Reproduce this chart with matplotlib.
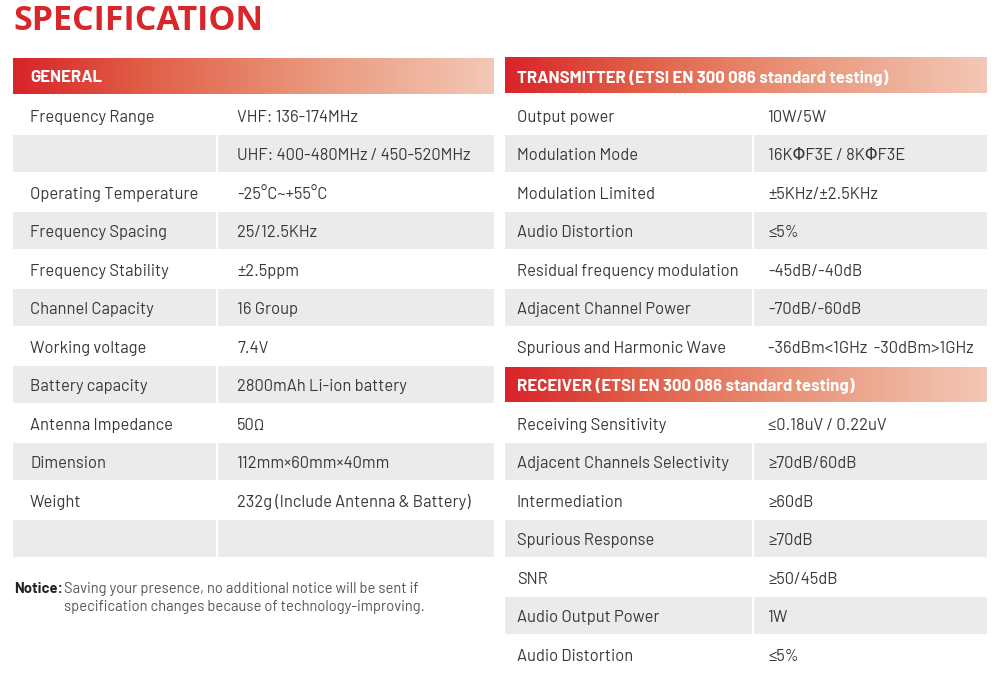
import matplotlib
matplotlib.use("Agg")
import matplotlib.pyplot as plt
import numpy as np
from matplotlib.patches import Rectangle
from matplotlib.colors import LinearSegmentedColormap

title = "SPECIFICATION"

general_header = "GENERAL"
general_labels = ["Frequency Range", "", "Operating Temperature", "Frequency Spacing",
                  "Frequency Stability", "Channel Capacity", "Working voltage",
                  "Battery capacity", "Antenna Impedance", "Dimension", "Weight", ""]
general_values = ["VHF: 136-174MHz", "UHF: 400-480MHz / 450-520MHz", "-25°C~+55°C",
                  "25/12.5KHz", "±2.5ppm", "16 Group", "7.4V", "2800mAh Li-ion battery",
                  "50Ω", "112mm×60mm×40mm", "232g (Include Antenna & Battery)", ""]

tx_header = "TRANSMITTER (ETSI EN 300 086 standard testing)"
tx_labels = ["Output power", "Modulation Mode", "Modulation Limited", "Audio Distortion",
             "Residual frequency modulation", "Adjacent Channel Power",
             "Spurious and Harmonic Wave"]
tx_values = ["10W/5W", "16KΦF3E / 8KΦF3E", "±5KHz/±2.5KHz", "≤5%", "-45dB/-40dB",
             "-70dB/-60dB", "-36dBm<1GHz  -30dBm>1GHz"]

rx_header = "RECEIVER (ETSI EN 300 086 standard testing)"
rx_labels = ["Receiving Sensitivity", "Adjacent Channels Selectivity", "Intermediation",
             "Spurious Response", "SNR", "Audio Output Power", "Audio Distortion"]
rx_values = ["≤0.18uV / 0.22uV", "≥70dB/60dB", "≥60dB", "≥70dB", "≥50/45dB", "1W", "≤5%"]

notice_head = "Notice:"
notice_lines = ["Saving your presence, no additional notice will be sent if",
                "specification changes because of technology-improving."]

BODY = ["Barlow", "DejaVu Sans"]
BODY_COLOR = "#383838"
GREY = "#ebebeb"
RED = "#d8262b"
PITCH = 38.5
ROW_H = 36.5

grad = LinearSegmentedColormap.from_list(
    "hdr", [(0.0, "#d9232a"), (0.25, "#e05a44"), (0.6, "#e99479"), (1.0, "#f3c8b6")])

fig = plt.figure(figsize=(9.94, 6.82), dpi=100)
ax = fig.add_axes([0, 0, 1, 1])
ax.set_xlim(0, 994)
ax.set_ylim(682, 0)
ax.axis("off")


def header(x0, x1, y0, y1, text, pad):
    g = np.linspace(0, 1, 256).reshape(1, -1)
    ax.imshow(g, cmap=grad, extent=(x0, x1, y1, y0), aspect="auto", zorder=1,
              interpolation="bicubic")
    ax.text(x0 + pad, (y0 + y1) / 2 + 2, text, color="white", fontsize=12.1,
            fontweight="bold", family=BODY, va="center", ha="left", zorder=3)


def table(top, labels, values, x0, xs, x1, pad):
    for i, (lab, val) in enumerate(zip(labels, values)):
        y = top + PITCH * i
        if i % 2 == 1:
            ax.add_patch(Rectangle((x0, y), xs - 1 - x0, ROW_H, color=GREY, lw=0, zorder=1))
            ax.add_patch(Rectangle((xs + 1, y), x1 - xs - 1, ROW_H, color=GREY, lw=0, zorder=1))
        cy = y + ROW_H / 2 + 2.5
        ax.text(x0 + pad, cy, lab, color=BODY_COLOR, fontsize=11.9, family=BODY,
                va="center", ha="left", zorder=3)
        ax.text(xs + pad + 3, cy, val, color=BODY_COLOR, fontsize=11.9, family=BODY,
                va="center", ha="left", zorder=3)


ax.text(13, 21, title, color=RED, fontsize=24.5, fontweight="bold",
        family=["Open Sans", "DejaVu Sans"], va="center", ha="left")

# left block
header(13, 494, 58, 94, general_header, 17)
table(96.5, general_labels, general_values, 13, 217, 494, 17)

# right block
header(505, 987, 58, 93.5, tx_header, 12)
table(96.5, tx_labels, tx_values, 505, 753, 987, 12)
header(505, 987, 367, 402, rx_header, 12)
table(404.5, rx_labels, rx_values, 505, 753, 987, 12)

# notice
ax.text(14, 589, notice_head, color="#222222", fontsize=10.6, fontweight="bold",
        family=BODY, va="center", ha="left")
for k, line in enumerate(notice_lines):
    ax.text(64, 589 + 17.5 * k, line, color="#555555", fontsize=10.6, family=BODY,
            va="center", ha="left")

fig.savefig("out.png", dpi=100)
